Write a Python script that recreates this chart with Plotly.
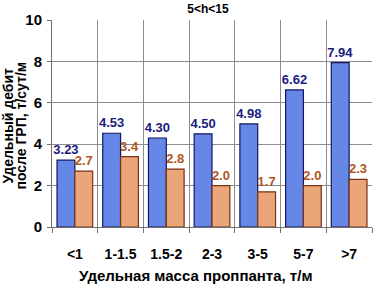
import plotly.graph_objects as go

categories = ["<1", "1-1.5", "1.5-2", "2-3", "3-5", "5-7", ">7"]
blue_vals = [3.23, 4.53, 4.30, 4.50, 4.98, 6.62, 7.94]
orange_vals = [2.7, 3.4, 2.8, 2.0, 1.7, 2.0, 2.3]
blue_text = ["3.23", "4.53", "4.30", "4.50", "4.98", "6.62", "7.94"]
orange_text = ["2.7", "3.4", "2.8", "2.0", "1.7", "2.0", "2.3"]
title_text = "5<h<15"
x_title = "Удельная масса проппанта, т/м"
y_title_lines = ["Удельный дебит", "после ГРП, т/сут/м"]

fnt = "Liberation Sans, Arial, sans-serif"

fig = go.Figure()
fig.add_trace(go.Bar(
    x=categories, y=blue_vals, text=blue_text, textposition="outside",
    texttemplate="<b>%{text}</b>", constraintext="none",
    textfont=dict(family=fnt, size=13, color="#1c1c80"),
    marker=dict(color="#6587e6", line=dict(color="#15155e", width=1.2)),
    cliponaxis=False, showlegend=False,
))
fig.add_trace(go.Bar(
    x=categories, y=orange_vals, text=orange_text, textposition="outside",
    texttemplate="<b>%{text}</b>", constraintext="none",
    textfont=dict(family=fnt, size=13, color="#b0561c"),
    marker=dict(color="#eaa678", line=dict(color="#7a3210", width=1.2)),
    cliponaxis=False, showlegend=False,
))

fig.update_layout(
    width=373, height=284,
    margin=dict(l=52, r=1, t=20, b=57),
    paper_bgcolor="white", plot_bgcolor="white",
    barmode="group", bargap=0.22, bargroupgap=0,
    font=dict(family=fnt, color="black"),
    title=dict(text="<b>" + title_text + "</b>", x=208 / 373, xref="container", xanchor="center",
               y=1 - 9 / 284, yanchor="middle",
               font=dict(size=12, family=fnt, color="black")),
    xaxis=dict(
        type="category", tickson="boundaries", showgrid=True, gridcolor="#8c8c8c", gridwidth=1,
        ticks="outside", ticklen=5, tickcolor="#707070", automargin=False,
        showline=True, linecolor="#707070", ticklabelstandoff=14,
        tickfont=dict(size=14, family=fnt, color="black"),
        tickprefix="<b>", ticksuffix="</b>",
    ),
    yaxis=dict(
        range=[0, 10], dtick=2, showgrid=True, gridcolor="#8c8c8c", gridwidth=1,
        ticks="outside", ticklen=4, tickcolor="#707070", automargin=False,
        showline=True, linecolor="#707070", zeroline=False, ticklabelstandoff=2,
        tickfont=dict(size=15, family=fnt, color="black"),
        tickprefix="<b>", ticksuffix="</b>",
    ),
    annotations=[
        dict(text="<b>" + x_title + "</b>", xref="paper", yref="paper",
             x=(195 - 52) / 320, y=(227 - 275) / 207, xanchor="center", yanchor="middle",
             showarrow=False, font=dict(size=15, family=fnt, color="black")),
        dict(text="<b>" + y_title_lines[0] + "</b>", xref="paper", yref="paper",
             x=(8 - 52) / 320, y=0.49, xanchor="center", yanchor="middle", textangle=-90,
             showarrow=False, font=dict(size=14, family=fnt, color="black")),
        dict(text="<b>" + y_title_lines[1] + "</b>", xref="paper", yref="paper",
             x=(21 - 52) / 320, y=0.49, xanchor="center", yanchor="middle", textangle=-90,
             showarrow=False, font=dict(size=14, family=fnt, color="black")),
    ],
)

fig.write_html("out.html", config={"displayModeBar": False},
               post_script="document.body.style.margin='0';document.body.style.overflow='hidden';")
